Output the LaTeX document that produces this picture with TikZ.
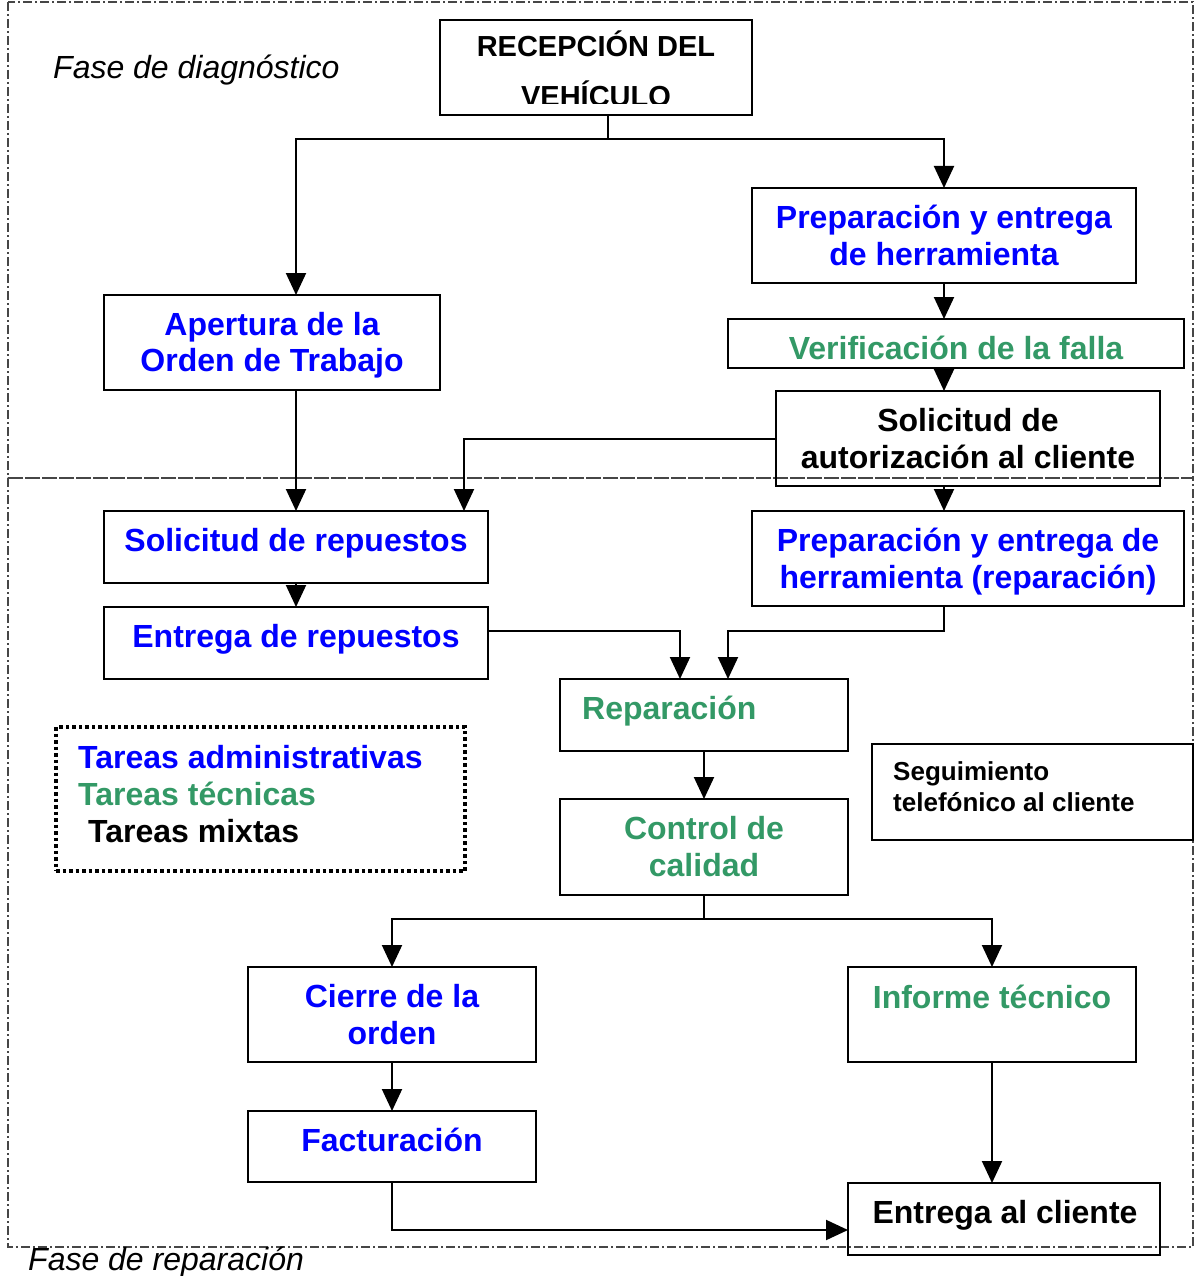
\documentclass[tikz,border=0pt]{standalone}
\usepackage{fontspec}
\setmainfont{Liberation Sans}
\usetikzlibrary{arrows.meta,calc}
\definecolor{admblue}{RGB}{0,0,255}
\definecolor{tecgreen}{RGB}{51,153,102}
\definecolor{framegray}{RGB}{70,70,70}
\tikzset{
  stagebox/.style={draw=black, line width=2pt, inner sep=0pt, outer sep=0pt},
  lbl/.style={inner sep=0pt, anchor=base, font=\fontsize{32}{37}\selectfont\bfseries},
  lblL/.style={lbl, anchor=base west},
  small/.style={inner sep=0pt, anchor=base west, font=\fontsize{26}{31}\selectfont\bfseries},
  phase/.style={inner sep=0pt, anchor=base west, font=\fontsize{32}{37}\selectfont\itshape},
  arr/.style={line width=2pt, -{Triangle[length=22pt,width=20pt]}},
  conn/.style={line width=2pt},
  phaseframe/.style={draw=framegray, line width=1.5pt, dash pattern=on 9pt off 3pt on 2pt off 3pt},
  legendframe/.style={draw=black, line width=3.5pt, dash pattern=on 3.5pt off 3pt},
}
\begin{document}
\begin{tikzpicture}[x=1pt,y=-1pt]
\useasboundingbox (0,0) rectangle (1195,1276);

% phase frames
\draw[phaseframe] (8,2) rectangle (1193,478);
\draw[phaseframe] (8,478) rectangle (1193,1247);
\node[phase] (fdiag) at (53,79) {Fase de diagnóstico};
\node[phase] (frep) at (28,1270) {Fase de reparación};

% stage boxes
\node[stagebox, minimum width=312pt, minimum height=95pt] (rec) at (596,67.5) {};
\node[stagebox, minimum width=384pt, minimum height=95pt] (prep1) at (944,235.5) {};
\node[stagebox, minimum width=336pt, minimum height=95pt] (aper) at (272,342.5) {};
\node[stagebox, minimum width=456pt, minimum height=49pt] (verif) at (956,343.5) {};
\node[stagebox, minimum width=384pt, minimum height=95pt] (solaut) at (968,438.5) {};
\node[stagebox, minimum width=384pt, minimum height=72pt] (solrep) at (296,547) {};
\node[stagebox, minimum width=432pt, minimum height=95pt] (prep2) at (968,558.5) {};
\node[stagebox, minimum width=384pt, minimum height=72pt] (entrep) at (296,643) {};
\node[stagebox, minimum width=288pt, minimum height=72pt] (repar) at (704,715) {};
\node[stagebox, minimum width=288pt, minimum height=96pt] (control) at (704,847) {};
\node[stagebox, minimum width=288pt, minimum height=95pt] (cierre) at (392,1014.5) {};
\node[stagebox, minimum width=288pt, minimum height=95pt] (informe) at (992,1014.5) {};
\node[stagebox, minimum width=288pt, minimum height=71pt] (fact) at (392,1146.5) {};
\node[stagebox, minimum width=312pt, minimum height=72pt] (entcli) at (1004,1219) {};
\node[stagebox, minimum width=321pt, minimum height=96pt] (seg) at (1032.5,792) {};
\node[legendframe, inner sep=0pt, minimum width=409pt, minimum height=144pt] (legend) at (260.5,799) {};

% labels (the vehicle reception text is cut off at the box's inner edge)
\begin{scope}
  \clip (441,21) rectangle (751,104);
  \node[lbl, font=\fontsize{29}{34}\selectfont\bfseries] (recA) at (596,57) {RECEPCIÓN DEL};
  \node[lbl, font=\fontsize{29}{34}\selectfont\bfseries] (recB) at (596,106.5) {VEHÍCULO};
\end{scope}
\node[lbl, text=admblue] (prep1A) at (944,228) {Preparación y entrega};
\node[lbl, text=admblue] (prep1B) at (944,265) {de herramienta};
\node[lbl, text=admblue] (aperA) at (272,335) {Apertura de la};
\node[lbl, text=admblue] (aperB) at (272,371) {Orden de Trabajo};
\node[lbl, text=tecgreen] (verifA) at (956,359) {Verificación de la falla};
\node[lbl] (solautA) at (968,431) {Solicitud de};
\node[lbl] (solautB) at (968,468) {autorización al cliente};
\node[lbl, text=admblue] (solrepA) at (296,551) {Solicitud de repuestos};
\node[lbl, text=admblue] (prep2A) at (968,551) {Preparación y entrega de};
\node[lbl, text=admblue] (prep2B) at (968,588) {herramienta (reparación)};
\node[lbl, text=admblue] (entrepA) at (296,647) {Entrega de repuestos};
\node[lblL, text=tecgreen] (reparA) at (582,719) {Reparación};
\node[lbl, text=tecgreen] (controlA) at (704,839) {Control de};
\node[lbl, text=tecgreen] (controlB) at (704,876) {calidad};
\node[lbl, text=admblue] (cierreA) at (392,1007) {Cierre de la};
\node[lbl, text=admblue] (cierreB) at (392,1044) {orden};
\node[lbl, text=tecgreen] (informeA) at (992,1008) {Informe técnico};
\node[lbl, text=admblue] (factA) at (392,1151) {Facturación};
\node[lbl] (entcliA) at (1005,1223) {Entrega al cliente};
\node[small] (segA) at (893,780) {Seguimiento};
\node[small] (segB) at (893,811) {telefónico al cliente};
\node[lblL, text=admblue] (legA) at (78,768) {Tareas administrativas};
\node[lblL, text=tecgreen] (legB) at (78,805) {Tareas técnicas};
\node[lblL] (legC) at (88,842) {Tareas mixtas};

% connectors
\coordinate (j1) at (608,139);
\coordinate (j2) at (704,919);
\draw[conn] ([xshift=12pt]rec.south) -- (j1);
\draw[arr] (j1) -| (solrep.north |- aper.north);
\draw[arr] (j1) -| (prep1.north);
\draw[arr] (prep1.south) -- (prep1.south |- verif.north);
\draw[arr] ([xshift=-12pt]verif.south) -- ([xshift=-12pt]verif.south |- solaut.north);
\draw[arr] (solaut.west) -| ([xshift=-24pt]solrep.north east);
\draw[arr] (solrep.north |- aper.south) -- (solrep.north);
\draw[arr] ([xshift=-24pt]solaut.south) -- ([xshift=-24pt]solaut.south |- prep2.north);
\draw[arr] (solrep.south) -- (entrep.north);
\draw[arr] ([yshift=12pt]entrep.east) -| ([xshift=-24pt]repar.north);
\draw[arr] ([xshift=-24pt]prep2.south) -- ++(0,25) -| ([xshift=24pt]repar.north);
\draw[arr] (repar.south) -- (control.north);
\draw[conn] (control.south) -- (j2);
\draw[arr] (j2) -| (cierre.north);
\draw[arr] (j2) -| (informe.north);
\draw[arr] (cierre.south) -- (fact.north);
\draw[arr] (informe.south) -- (informe.south |- entcli.north);
\draw[arr] (fact.south) |- ([yshift=-11pt]entcli.west);
\end{tikzpicture}
\end{document}
